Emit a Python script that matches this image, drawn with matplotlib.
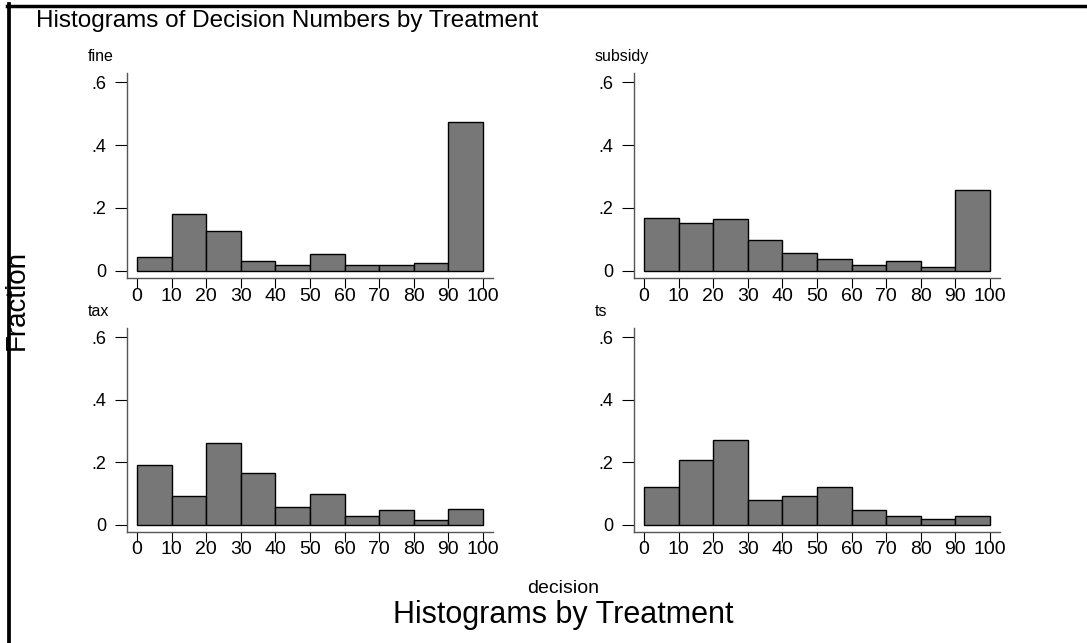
import matplotlib
matplotlib.use("Agg")
from matplotlib import pyplot as plt
from matplotlib.lines import Line2D

plt.rcParams['font.family'] = ['Liberation Sans', 'DejaVu Sans']

# bin edges of decision (0-100 in steps of 10)
edges = [0, 10, 20, 30, 40, 50, 60, 70, 80, 90, 100]

# fraction per bin
fine = [0.044, 0.180, 0.127, 0.031, 0.020, 0.054, 0.017, 0.020, 0.026, 0.474]
subsidy = [0.168, 0.153, 0.166, 0.097, 0.058, 0.039, 0.020, 0.030, 0.011, 0.256]
tax = [0.190, 0.092, 0.262, 0.166, 0.057, 0.099, 0.027, 0.047, 0.013, 0.049]
ts = [0.119, 0.206, 0.270, 0.080, 0.090, 0.119, 0.047, 0.027, 0.017, 0.027]

panels = ["fine", "subsidy", "tax", "ts"]
values = [fine, subsidy, tax, ts]

yticks = [0, 0.2, 0.4, 0.6]
ylabels = ["0", ".2", ".4", ".6"]
xticks = [0, 10, 20, 30, 40, 50, 60, 70, 80, 90, 100]

W, H = 1087, 643
fig = plt.figure(figsize=(W / 100, H / 100), dpi=100)

# axes boxes in pixels: left, x-axis line y, top
boxes = [(127, 278, 73), (634, 278, 73), (127, 531.7, 328), (634, 531.7, 328)]
axw = 366

for (left, base, top), name, vals in zip(boxes, panels, values):
    ax = fig.add_axes([left / W, (H - base) / H, axw / W, (base - top) / H])
    ax.bar(edges[:-1], vals, width=10, align='edge', color='#777777',
           edgecolor='black', linewidth=1.0)
    ax.set_xlim(-2.89, 102.89)
    ax.set_ylim(-0.023, 0.63)
    for s in ['top', 'right']:
        ax.spines[s].set_visible(False)
    for s in ['left', 'bottom']:
        ax.spines[s].set_color('#555555')
        ax.spines[s].set_linewidth(1.0)
    ax.set_yticks(yticks)
    ax.set_yticklabels(ylabels)
    ax.set_xticks(xticks)
    ax.tick_params(axis='y', direction='out', length=9, width=0.8, pad=6,
                   labelsize=13, color='black')
    ax.tick_params(axis='x', direction='out', length=7, width=0.8, pad=0,
                   labelsize=14, color='black')
    ax.patch.set_alpha(0)
    fig.text((left - 39) / W, 1 - (top - 12) / H, name, fontsize=11.5,
             ha='left', va='baseline')

fig.text(36 / W, 1 - 27 / H, "Histograms of Decision Numbers by Treatment",
         fontsize=17.5, ha='left', va='baseline')
fig.text(563 / W, 1 - 592.7 / H, "decision", fontsize=14,
         ha='center', va='baseline')
fig.text(563 / W, 1 - 622.5 / H, "Histograms by Treatment", fontsize=22,
         ha='center', va='baseline')
fig.text(17 / W, 1 - 300 / H, "Fraction", fontsize=20, rotation=90,
         ha='center', va='center')

# frame lines at top and left edge
fig.add_artist(Line2D([7 / W, 1], [1 - 5.7 / H, 1 - 5.7 / H],
                      transform=fig.transFigure, color='black', linewidth=2.5))
fig.add_artist(Line2D([9.2 / W, 9.2 / W], [0, 1 - 4 / H],
                      transform=fig.transFigure, color='black', linewidth=2.7))

fig.savefig("out.png", dpi=100)
